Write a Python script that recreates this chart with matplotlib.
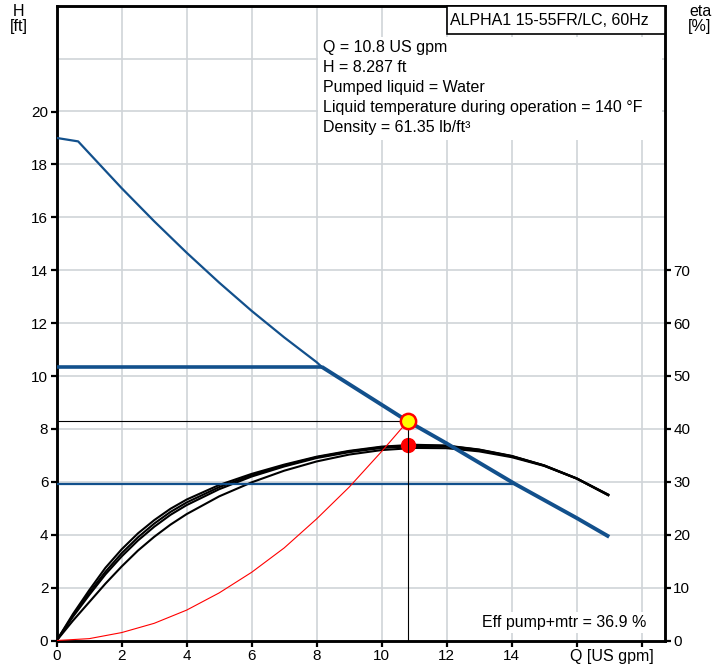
import matplotlib
matplotlib.use("Agg")
import matplotlib.pyplot as plt
from matplotlib.patches import Rectangle

plt.rcParams['font.family'] = ['Liberation Sans', 'DejaVu Sans']
plt.rcParams['font.size'] = 11.5

# ---------------- data ----------------
pump_q_low = [0, 0.66, 1, 2, 3, 4, 5, 6, 7, 8, 8.15]
pump_h_low = [19.0, 18.87, 18.42, 17.1, 15.85, 14.66, 13.53, 12.46, 11.46, 10.52, 10.35]
pump_q_high = [8.15, 10.8, 12, 14.1, 16, 17.0]
pump_h_high = [10.35, 8.29, 7.45, 5.92, 4.63, 3.92]

max_line_q = [0, 8.15]
max_line_h = [10.35, 10.35]
min_line_q = [0, 14.1]
min_line_h = [5.92, 5.92]

eta_q = [0, 0.5, 1, 1.5, 2, 2.5, 3, 3.5, 4, 5, 6, 7, 8, 9, 10, 11, 12, 13, 14, 15, 16, 17.0]
eta_c1 = [0, 5.0, 9.5, 13.75, 17.25, 20.25, 22.75, 24.9, 26.65, 29.4, 31.5, 33.25, 34.75,
          35.85, 36.65, 37.0, 36.85, 36.1, 34.9, 33.1, 30.65, 27.5]
eta_c2 = [0, 4.75, 9.0, 13.0, 16.5, 19.5, 22.1, 24.3, 26.1, 29.0, 31.25, 33.1, 34.65,
          35.75, 36.55, 36.9, 36.8, 36.05, 34.85, 33.1, 30.65, 27.45]
eta_c3 = [0, 4.5, 8.6, 12.5, 15.9, 18.9, 21.5, 23.75, 25.6, 28.6, 31.0, 32.9, 34.5,
          35.6, 36.4, 36.75, 36.65, 35.95, 34.8, 33.05, 30.6, 27.4]
eta_c4 = [0, 3.75, 7.25, 10.75, 14.0, 17.0, 19.6, 21.9, 23.9, 27.25, 29.9, 32.1, 33.85,
          35.15, 36.0, 36.4, 36.35, 35.75, 34.65, 33.0, 30.6, 27.35]

sys_q = [0, 1, 2, 3, 4, 5, 6, 7, 8, 9, 10, 10.8]
sys_h = [0, 0.07, 0.3, 0.65, 1.15, 1.8, 2.58, 3.5, 4.6, 5.8, 7.15, 8.287]

op_q = 10.8
op_h = 8.287
op_eta = 36.9

x_ticks = [0, 2, 4, 6, 8, 10, 12, 14, 16, 18]
x_ticklabels = ['0', '2', '4', '6', '8', '10', '12', '14', '', '']
h_ticks = [0, 2, 4, 6, 8, 10, 12, 14, 16, 18, 20]
h_grid = [0, 2, 4, 6, 8, 10, 12, 14, 16, 18, 20, 22]
eta_ticks = [0, 10, 20, 30, 40, 50, 60, 70]

info_lines = ["Q = 10.8 US gpm", "H = 8.287 ft", "Pumped liquid = Water",
              "Liquid temperature during operation = 140 °F", "Density = 61.35 lb/ft³"]
title_text = "ALPHA1 15-55FR/LC, 60Hz"
eff_text = "Eff pump+mtr = 36.9 %"

# ---------------- figure ----------------
W, H = 728, 668
fig = plt.figure(figsize=(W / 100, H / 100), dpi=100)
x0, x1, y0, y1 = 56.7, 665, 640.5, 5.7
PX_Q, PX_H = 32.5, 26.45
ax = fig.add_axes([x0 / W, (H - y0) / H, (x1 - x0) / W, (y0 - y1) / H])
ax2 = ax.twinx()
ax.set_zorder(ax2.get_zorder() + 1)
ax.patch.set_visible(False)
ax2.patch.set_visible(True)
ax2.patch.set_facecolor('white')

xmax = (x1 - x0) / PX_Q
ax.set_xlim(0, xmax)
ax.set_ylim(0, 24)
ax2.set_ylim(0, 120)

def qx(px):
    return (px - x0) / PX_Q

def hy(py):
    return (y0 - py) / PX_H

gridc = '#d0d4d8'
for xv in x_ticks[1:]:
    ax2.axvline(xv, color=gridc, lw=1.2, zorder=0)
for hv in h_grid[1:]:
    ax2.axhline(hv * 5, color=gridc, lw=1.2, zorder=0)

# efficiency curves
for c in (eta_c4, eta_c3, eta_c2, eta_c1):
    ax2.plot(eta_q, c, color='black', lw=1.5, zorder=2, solid_capstyle='butt',
             solid_joinstyle='round')

blue = '#12508c'
ax.plot(max_line_q, max_line_h, color=blue, lw=2.6, zorder=3, solid_capstyle='butt')
ax.plot(min_line_q, min_line_h, color=blue, lw=1.6, zorder=3, solid_capstyle='butt')
ax.plot(pump_q_low, pump_h_low, color=blue, lw=1.6, zorder=3)
ax.plot(pump_q_high, pump_h_high, color=blue, lw=2.8, zorder=3, solid_capstyle='butt')

# system curve
ax.plot(sys_q, sys_h, color='#ff0000', lw=0.8, zorder=4)

# operating point lines
ax.plot([0, op_q], [op_h, op_h], color='black', lw=0.8, zorder=4)
ax.plot([op_q, op_q], [0, op_h], color='black', lw=0.8, zorder=4)

ax2.plot([op_q], [op_eta], 'o', color='#ff0000', ms=10, zorder=5)
ax.plot([op_q], [op_h], 'o', markerfacecolor='#ffff00', markeredgecolor='#ff0000',
        markeredgewidth=1.8, ms=11, zorder=6)

# ticks
ax.set_xticks(x_ticks)
ax.set_xticklabels(x_ticklabels)
ax.set_yticks(h_ticks)
ax2.set_yticks(eta_ticks)
for a in (ax, ax2):
    a.tick_params(direction='out', length=4, width=1.6, labelsize=11, pad=2)
    for s in a.spines.values():
        s.set_linewidth(1.8)
        s.set_color('black')

# title box
bx0 = qx(447)
ax.add_patch(Rectangle((bx0, hy(34)), xmax - bx0, 24 - hy(34), facecolor='white',
                       edgecolor='black', lw=1.2, zorder=7, clip_on=False))
ax.text(qx(450), hy(20), title_text, ha='left', va='center', zorder=8)

# info block
ax.add_patch(Rectangle((qx(318), hy(140)), (662 - 318) / PX_Q, (140 - 37) / PX_H,
                       facecolor='white', edgecolor='none', zorder=1))
for i, line in enumerate(info_lines):
    ypix = 47 + i * 20.2
    ax.text(qx(323), hy(ypix), line, ha='left', va='center', zorder=8)

# efficiency text
ax.add_patch(Rectangle((qx(478), hy(633)), (652 - 478) / PX_Q, (633 - 612) / PX_H,
                       facecolor='white', edgecolor='none', zorder=1))
ax.text(qx(646), hy(622), eff_text, ha='right', va='center', zorder=8)

# axis labels
fig.text(19 / W, 1 - 12 / H, "H", ha='center', va='center')
fig.text(19 / W, 1 - 27 / H, "[ft]", ha='center', va='center')
fig.text(700 / W, 1 - 12 / H, "eta", ha='center', va='center')
fig.text(700 / W, 1 - 27 / H, "[%]", ha='center', va='center')
fig.text(612 / W, 1 - 657 / H, "Q [US gpm]", ha='center', va='center')

fig.savefig("out.png", dpi=100)
